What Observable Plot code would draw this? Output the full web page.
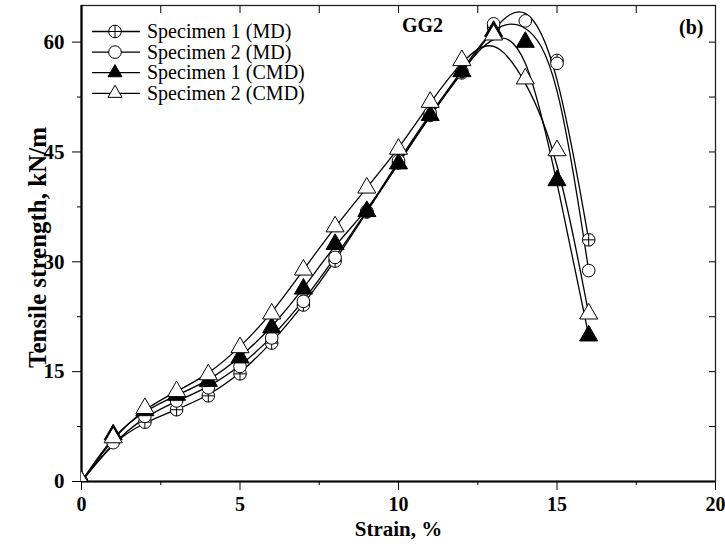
<!DOCTYPE html>
<html>
<head>
<meta charset="utf-8">
<script src="https://cdn.jsdelivr.net/npm/d3@7"></script>
<script src="https://cdn.jsdelivr.net/npm/@observablehq/plot@0.6"></script>
<style>
  body { margin: 0; background: #fff; }
  #chart { width: 725px; height: 548px; }
</style>
</head>
<body>
<div id="chart"></div>
<script>
// ---- data ----
const strain = [0, 1, 2, 3, 4, 5, 6, 7, 8, 9, 10, 11, 12, 13, 14, 15, 16];
const spec1MD  = [0, 5.5, 8.1, 9.8, 11.7, 14.7, 18.9, 24.1, 30.1, 36.8, 43.5, 50.0, 55.8, 62.0, 66.0, 57.5, 33.0];
const spec2MD  = [0, 5.3, 8.9, 11.0, 12.8, 15.7, 19.6, 24.6, 30.6, 36.9, 43.8, 50.3, 56.0, 62.5, 62.9, 57.1, 28.8];
const spec1CMD = [0, 6.4, 9.7, 11.8, 13.7, 16.9, 21.0, 26.3, 32.4, 36.9, 43.4, 50.0, 56.0, 61.5, 60.0, 41.1, 19.9];
const spec2CMD = [0, 6.0, 10.0, 12.3, 14.6, 18.3, 22.9, 28.9, 34.8, 40.1, 45.4, 51.8, 57.5, 61.0, 55.0, 45.2, 22.9];
const seriesNames = ["Specimen 1 (MD)", "Specimen 2 (MD)", "Specimen 1 (CMD)", "Specimen 2 (CMD)"];
const seriesValues = [spec1MD, spec2MD, spec1CMD, spec2CMD];

const xMajor = [0, 5, 10, 15, 20];
const xMinor = [2.5, 7.5, 12.5, 17.5];
const xAll = [0, 2.5, 5, 7.5, 10, 12.5, 15, 17.5, 20];
const yMajor = [0, 15, 30, 45, 60];
const yMinor = [7.5, 22.5, 37.5, 52.5];
const yAll = [0, 7.5, 15, 22.5, 30, 37.5, 45, 52.5, 60];

const xTitle = "Strain, %";
const yTitle = "Tensile strength, kN/m";
const panelTitle = "GG2";
const panelTag = "(b)";

// ---- table ----
const rows = seriesNames.flatMap((name, s) =>
  strain.map((x, i) => ({ name, s, x, y: seriesValues[s][i] })));
const bySeries = s => rows.filter(d => d.s === s);

const serif = "'Liberation Serif', 'Times New Roman', Times, serif";
const R_CIRCLE = 6.3, R_TRI = 6.7, R_PLUS = 4.1;

const plot = Plot.plot({
  width: 725,
  height: 548,
  marginLeft: 81,
  marginRight: 10,
  marginTop: 5,
  marginBottom: 67,
  style: { fontFamily: serif, fontSize: "20px", fontWeight: "bold", color: "#000", background: "#fff", overflow: "visible" },
  x: { domain: [0, 20] },
  y: { domain: [0, 65] },
  marks: [
    // axes
    Plot.axisX(xMajor, { tickSize: 9, tickPadding: 6, tickFormat: d => d, label: null, fontSize: 20, fontWeight: "bold" }),
    Plot.axisX(xMinor, { tickSize: 4, tickFormat: () => "", label: null }),
    Plot.axisX(xAll, { anchor: "top", tickSize: -7, tickFormat: () => "", label: null }),
    Plot.axisY(yMajor, { tickSize: 9, tickPadding: 8, tickFormat: d => d, label: null, fontSize: 21, fontWeight: "bold" }),
    Plot.axisY(yMinor, { tickSize: 4, tickFormat: () => "", label: null }),
    Plot.axisY(yAll, { anchor: "right", tickSize: -7, tickFormat: () => "", label: null }),
    Plot.frame({ stroke: "#222", strokeWidth: 1.3 }),
    Plot.ruleX([0], { stroke: "#000", strokeWidth: 2.2 }),
    Plot.ruleY([0], { stroke: "#000", strokeWidth: 2.2 }),
    // lines
    Plot.line(rows, { x: "x", y: "y", z: "name", curve: "basis", stroke: "#000", strokeWidth: 1.3, clip: true }),
    // markers
    Plot.dot(bySeries(0), { x: "x", y: "y", r: R_CIRCLE, symbol: "circle", fill: "#fff", stroke: "#000", strokeWidth: 1, clip: true }),
    Plot.dot(bySeries(0), { x: "x", y: "y", r: R_PLUS, symbol: "plus", stroke: "#000", strokeWidth: 1, clip: true }),
    Plot.dot(bySeries(1), { x: "x", y: "y", r: R_CIRCLE, symbol: "circle", fill: "#fff", stroke: "#000", strokeWidth: 1, clip: true }),
    Plot.dot(bySeries(2), { x: "x", y: "y", r: R_TRI, symbol: "triangle", fill: "#000", stroke: "#000", strokeWidth: 1, clip: true }),
    Plot.dot(bySeries(3), { x: "x", y: "y", r: R_TRI, symbol: "triangle", fill: "#fff", stroke: "#000", strokeWidth: 1, clip: true }),
    // titles
    Plot.text([xTitle], { text: d => d, frameAnchor: "bottom", dy: 48, textAnchor: "middle", fontSize: 21, fontWeight: "bold", lineAnchor: "middle" }),
    Plot.text([yTitle], { text: d => d, frameAnchor: "left", dx: -44, dy: 4, rotate: -90, textAnchor: "middle", fontSize: 25, fontWeight: "bold", lineAnchor: "middle" }),
    Plot.text([panelTitle], { text: d => d, frameAnchor: "top-left", dx: 341, dy: 20, textAnchor: "middle", lineAnchor: "middle", fontSize: 20, fontWeight: "bold" }),
    Plot.text([panelTag], { text: d => d, frameAnchor: "top-right", dx: -12, dy: 22, textAnchor: "end", lineAnchor: "middle", fontSize: 20, fontWeight: "bold" })
  ]
});

document.getElementById("chart").appendChild(plot);

// ---- legend (inside the plot area, top-left) ----
const svg = d3.select(plot);
const legend = svg.append("g")
  .attr("font-family", serif).attr("font-size", 20).attr("font-weight", "normal")
  .attr("text-anchor", "start");
const legendSymbols = [
  [{ kind: "circle", r: R_CIRCLE, fill: "#fff" }, { kind: "plus" }],
  [{ kind: "circle", r: R_CIRCLE, fill: "#fff" }],
  [{ kind: "triangle", r: R_TRI, fill: "#000" }],
  [{ kind: "triangle", r: R_TRI, fill: "#fff" }]
];
seriesNames.forEach((name, i) => {
  const cy = 31.5 + i * 20.6;
  const g = legend.append("g").attr("transform", `translate(0,${cy})`);
  g.append("line").attr("x1", 92).attr("x2", 140).attr("y1", 0).attr("y2", 0)
    .attr("stroke", "#000").attr("stroke-width", 1.3);
  legendSymbols[i].forEach(sym => {
    if (sym.kind === "plus") {
      g.append("path").attr("d", `M${115 - R_CIRCLE},0H${115 + R_CIRCLE}M115,${-R_CIRCLE}V${R_CIRCLE}`)
        .attr("stroke", "#000").attr("stroke-width", 1).attr("fill", "none");
    } else if (sym.kind === "circle") {
      g.append("circle").attr("cx", 115).attr("cy", 0).attr("r", sym.r)
        .attr("fill", sym.fill).attr("stroke", "#000").attr("stroke-width", 1);
    } else {
      g.append("path").attr("transform", "translate(115,0)")
        .attr("d", d3.symbol(d3.symbolTriangle2, Math.PI * sym.r * sym.r)())
        .attr("fill", sym.fill).attr("stroke", "#000").attr("stroke-width", 1);
    }
  });
  g.append("text").attr("x", 147).attr("y", 0).attr("dy", "0.33em").attr("fill", "#000").text(name);
});
</script>
</body>
</html>
